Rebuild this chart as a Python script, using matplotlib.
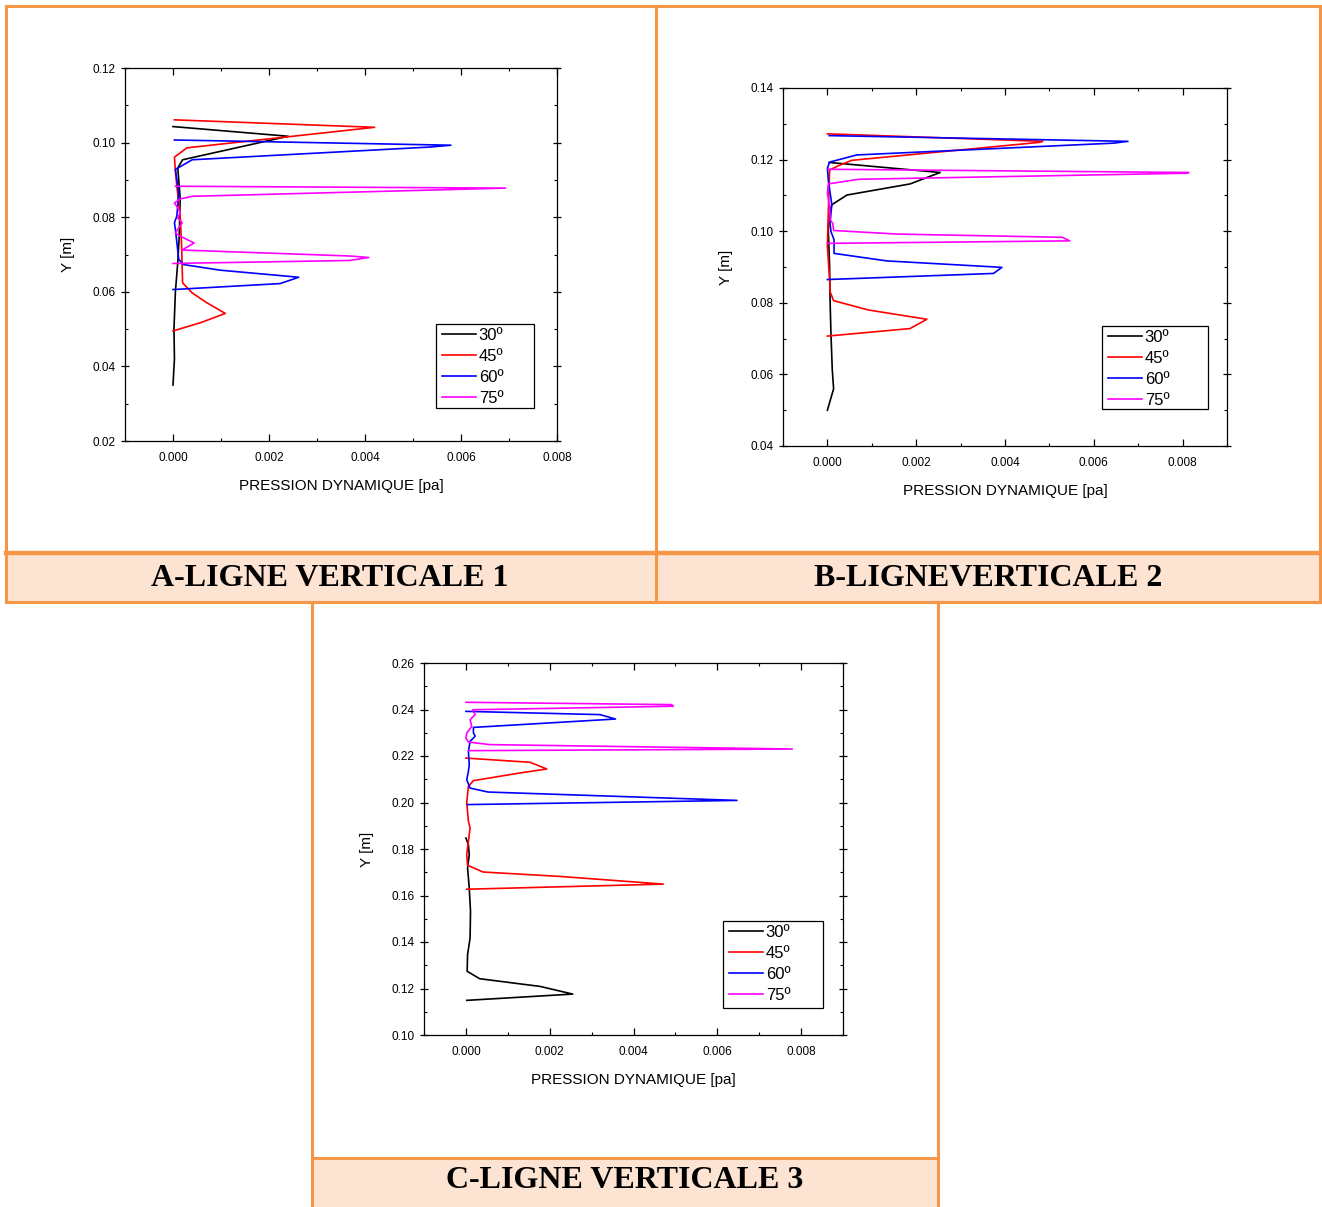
import matplotlib
matplotlib.use("Agg")
import matplotlib.pyplot as plt
from matplotlib.patches import Rectangle
from matplotlib.lines import Line2D
from matplotlib.ticker import MultipleLocator, FormatStrFormatter

# ---- data: dynamic pressure [pa] vs height Y [m] ----
labels = ["30º", "45º", "60º", "75º"]
colors = ["#000000", "#FF0000", "#0000FF", "#FF00FF"]

# Ligne verticale 1
a30_x = [0.0000, 0.0024, 0.0002, 0.0001, 0.00015, 0.00013, 0.0001, 0.00005, 0.00002, 0.00003, 0.0000]
a30_y = [0.1043, 0.1017, 0.0954, 0.0932, 0.0850, 0.0750, 0.0680, 0.0600, 0.0500, 0.0420, 0.0350]
a45_x = [0.00003, 0.0042, 0.00029, 0.00003, 0.00005, 0.00008, 0.00015, 0.00018, 0.00019, 0.0002,
         0.0004, 0.0007, 0.00109, 0.00057, 0.0]
a45_y = [0.1061, 0.1041, 0.0986, 0.0961, 0.0923, 0.0883, 0.0803, 0.0722, 0.0669, 0.0624,
         0.0597, 0.0571, 0.0542, 0.0517, 0.0495]
a60_x = [0.00003, 0.00579, 0.00534, 0.0004, 0.00005, 0.00012, 0.00008, 0.00003, 0.00005, 0.00012,
         0.00022, 0.00098, 0.00262, 0.00223, 0.0]
a60_y = [0.1007, 0.0993, 0.0988, 0.0954, 0.0928, 0.0865, 0.0803, 0.0785, 0.0767, 0.0687,
         0.0673, 0.0658, 0.0639, 0.0622, 0.0606]
a75_x = [0.00005, 0.00693, 0.0004, 0.00015, 0.00003, 0.0001, 0.00015, 0.0001, 0.00019, 0.00005,
         0.00015, 0.00044, 0.00019, 0.00368, 0.00408, 0.00368, 0.0]
a75_y = [0.0883, 0.0878, 0.0856, 0.0849, 0.0838, 0.0825, 0.0812, 0.0798, 0.0785, 0.0758,
         0.0749, 0.0731, 0.0712, 0.0696, 0.0692, 0.0684, 0.0676]

# Ligne verticale 2
b30_x = [0.00004, 0.00254, 0.00186, 0.00044, 0.0001, 0.00005, 0.00002, 0.00005, 0.00006, 0.00008,
         0.00011, 0.00014, 0.0]
b30_y = [0.1192, 0.1164, 0.1132, 0.1101, 0.1074, 0.1055, 0.1004, 0.0901, 0.0808, 0.0714,
         0.0612, 0.0560, 0.0500]
b45_x = [0.0, 0.00485, 0.00476, 0.00055, 0.00025, 0.00005, 0.00002, 0.0, 0.00005, 0.00006,
         0.00014, 0.00092, 0.00224, 0.00186, 0.0]
b45_y = [0.1272, 0.1251, 0.1248, 0.1198, 0.1183, 0.1171, 0.1050, 0.0957, 0.0864, 0.0831,
         0.0806, 0.0780, 0.0754, 0.0728, 0.0707]
b60_x = [0.00004, 0.00677, 0.00645, 0.00066, 0.00005, 0.0, 0.00002, 0.0001, 0.00008, 0.00006,
         0.00008, 0.00015, 0.00015, 0.00134, 0.00393, 0.00374, 0.0]
b60_y = [0.1267, 0.1251, 0.1246, 0.1213, 0.1193, 0.1176, 0.1143, 0.1074, 0.1050, 0.1022,
         0.0999, 0.0976, 0.0938, 0.0917, 0.0899, 0.0882, 0.0865]
b75_x = [0.00002, 0.00814, 0.0081, 0.0007, 0.00002, 0.0, 0.00005, 0.00006, 0.00012, 0.00014,
         0.00156, 0.00529, 0.00546, 0.0]
b75_y = [0.1173, 0.1164, 0.1162, 0.1145, 0.1132, 0.1106, 0.1069, 0.1032, 0.1022, 0.1002,
         0.0992, 0.0983, 0.0973, 0.0966]

# Ligne verticale 3
c30_x = [0.0, 0.00006, 0.00008, 0.00004, 0.00008, 0.00011, 0.0001, 0.00004, 0.00003, 0.00033,
         0.00177, 0.00255, 0.00002]
c30_y = [0.1847, 0.1819, 0.1776, 0.1718, 0.1632, 0.1532, 0.1417, 0.1346, 0.1274, 0.1242,
         0.1209, 0.1176, 0.1149]
c45_x = [0.0, 0.00153, 0.00193, 0.00129, 0.00018, 0.00006, 0.00002, 0.00006, 0.0001, 0.00006,
         0.00002, 0.00004, 0.00041, 0.00225, 0.00471, 0.00002]
c45_y = [0.2191, 0.2173, 0.2144, 0.2127, 0.2094, 0.2070, 0.2000, 0.1919, 0.1890, 0.1833,
         0.1776, 0.1730, 0.1701, 0.1682, 0.1649, 0.1627]
c60_x = [0.0, 0.0032, 0.00357, 0.00018, 0.00018, 0.00022, 0.0001, 0.00006, 0.00008, 0.00006,
         0.00002, 0.0001, 0.00053, 0.00647, 0.00003]
c60_y = [0.2392, 0.2378, 0.2359, 0.2323, 0.2299, 0.2285, 0.2263, 0.2220, 0.2163, 0.2134,
         0.2098, 0.2062, 0.2045, 0.2009, 0.1991]
c75_x = [0.0, 0.00491, 0.00495, 0.00016, 0.00022, 0.0001, 0.00014, 0.00002, 0.0, 0.00006,
         0.00057, 0.00779, 0.00006]
c75_y = [0.2431, 0.2421, 0.2414, 0.2399, 0.2378, 0.2356, 0.2327, 0.2299, 0.2277, 0.2260,
         0.2249, 0.2230, 0.2223]

captions = ["A-LIGNE VERTICALE 1", "B-LIGNEVERTICALE 2", "C-LIGNE VERTICALE 3"]
x_label = "PRESSION DYNAMIQUE [pa]"
y_label = "Y [m]"

# ---- figure layout (pixel helpers) ----
W, H = 1322, 1207
fig = plt.figure(figsize=(W / 100, H / 100), dpi=100)
fig.patch.set_facecolor("white")
ORANGE = "#F79646"
FILL = "#FDE4D2"


def fx(px):
    return px / W


def fy(py):
    return 1 - py / H


def box(x0, y0, x1, y1):
    return [fx(x0), fy(y1), (x1 - x0) / W, (y1 - y0) / H]


def hline(y, x0, x1, lw=3):
    fig.add_artist(Line2D([fx(x0), fx(x1)], [fy(y), fy(y)], color=ORANGE, lw=lw,
                          transform=fig.transFigure, solid_capstyle="projecting"))


def vline(x, y0, y1, lw=3):
    fig.add_artist(Line2D([fx(x), fx(x)], [fy(y0), fy(y1)], color=ORANGE, lw=lw,
                          transform=fig.transFigure, solid_capstyle="projecting"))


# caption bands
for (x0, y0, x1, y1) in [(5.5, 552.5, 655.5, 601.5), (655.5, 552.5, 1320, 601.5),
                         (311.5, 1157.5, 938, 1208)]:
    fig.add_artist(Rectangle((fx(x0), fy(y1)), (x1 - x0) / W, (y1 - y0) / H,
                             facecolor=FILL, edgecolor="none", transform=fig.transFigure))

# frame lines
hline(5.5, 5.5, 1320, 2.2)
hline(552.5, 5.5, 1320, 3.2)
hline(601.5, 5.5, 1320, 2.2)
vline(5.5, 5.5, 601.5, 2.2)
vline(655.5, 5.5, 601.5, 2.2)
vline(1320, 5.5, 601.5, 2.2)
vline(311.5, 601.5, 1208, 2.2)
vline(938, 601.5, 1208, 2.2)
hline(1157.5, 311.5, 938, 2.2)

cap_font = dict(family="Liberation Serif", weight="bold", size=23, ha="center", va="center")
fig.text(fx(330), fy(578.5), captions[0], **cap_font)
fig.text(fx(988), fy(578.5), captions[1], **cap_font)
fig.text(fx(624.5), fy(1180.5), captions[2], **cap_font)

panels = [
    dict(rect=box(125, 68, 557, 441), xlim=(-0.001, 0.008), ylim=(0.02, 0.12),
         series=[(a30_x, a30_y), (a45_x, a45_y), (a60_x, a60_y), (a75_x, a75_y)],
         leg=(436, 324, 534, 408)),
    dict(rect=box(783, 88, 1227, 446), xlim=(-0.001, 0.009), ylim=(0.04, 0.14),
         series=[(b30_x, b30_y), (b45_x, b45_y), (b60_x, b60_y), (b75_x, b75_y)],
         leg=(1102, 326, 1208, 409)),
    dict(rect=box(424, 663, 843, 1035), xlim=(-0.001, 0.009), ylim=(0.10, 0.26),
         series=[(c30_x, c30_y), (c45_x, c45_y), (c60_x, c60_y), (c75_x, c75_y)],
         leg=(723, 921, 823, 1008)),
]

for p in panels:
    ax = fig.add_axes(p["rect"])
    for (xs, ys), lab, col in zip(p["series"], labels, colors):
        ax.plot(xs, ys, color=col, lw=1.2, label=lab)
    ax.set_xlim(*p["xlim"])
    ax.set_ylim(*p["ylim"])
    ax.xaxis.set_major_locator(MultipleLocator(0.002))
    ax.xaxis.set_minor_locator(MultipleLocator(0.001))
    ax.yaxis.set_major_locator(MultipleLocator(0.02))
    ax.yaxis.set_minor_locator(MultipleLocator(0.01))
    ax.xaxis.set_major_formatter(FormatStrFormatter("%.3f"))
    ax.yaxis.set_major_formatter(FormatStrFormatter("%.2f"))
    for s in ax.spines.values():
        s.set_linewidth(0.9)
    ax.tick_params(axis="x", which="major", direction="in", length=5, width=0.9,
                   top=True, bottom=True, labelsize=8.5, pad=8)
    ax.tick_params(axis="x", which="minor", direction="in", length=2.5, width=0.8,
                   top=True, bottom=True)
    ax.tick_params(axis="y", which="major", direction="inout", length=6, width=0.9,
                   left=True, right=True, labelsize=8.5, pad=4)
    ax.tick_params(axis="y", which="minor", direction="in", length=2.5, width=0.8,
                   left=True, right=True)
    for t in ax.get_xticklabels() + ax.get_yticklabels():
        t.set_family("Liberation Sans")
    ax.set_xlabel(x_label, family="Liberation Sans", fontsize=11, labelpad=11)
    ax.set_ylabel(y_label, family="Liberation Sans", fontsize=11, labelpad=12)

    # legend: framed box plus entries placed inside it
    lx0, ly0, lx1, ly1 = p["leg"]
    ax.add_patch(Rectangle((fx(lx0), fy(ly1)), (lx1 - lx0) / W, (ly1 - ly0) / H,
                           facecolor="white", edgecolor="black", lw=0.9,
                           transform=fig.transFigure, zorder=5, clip_on=False))
    leg = ax.legend(loc="upper left", bbox_to_anchor=(fx(lx0 + 6), fy(ly0 + 4)),
                    bbox_transform=fig.transFigure, borderaxespad=0, borderpad=0,
                    frameon=False, handlelength=2.05, handletextpad=0.15,
                    labelspacing=0.36, prop=dict(family="Liberation Sans", size=12))
    leg.set_zorder(6)
    for h in leg.get_lines():
        h.set_linewidth(1.2)

fig.savefig("out.png", dpi=100)
